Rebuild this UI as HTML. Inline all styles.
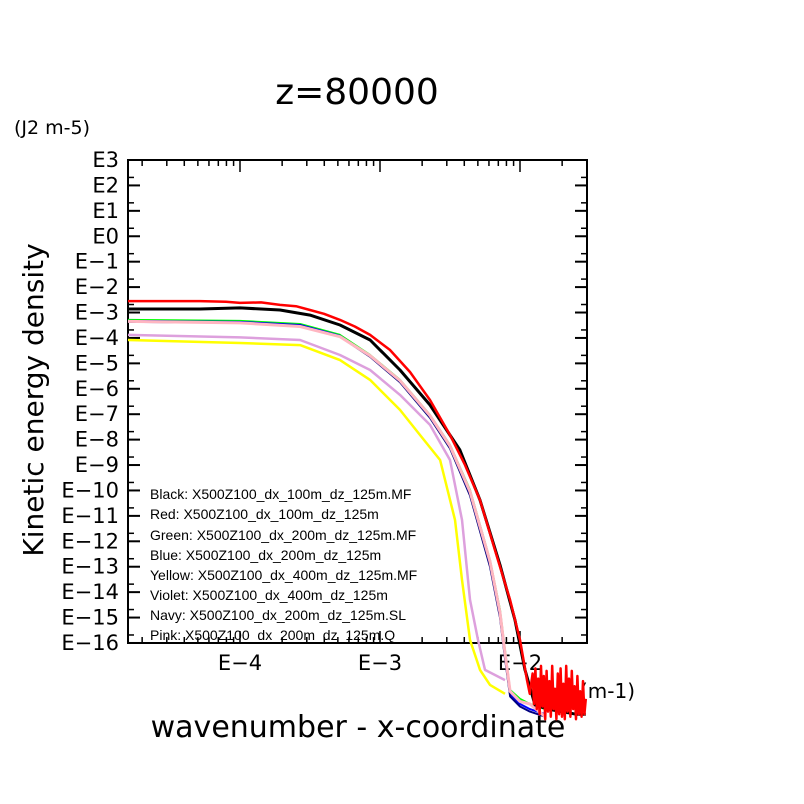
<!DOCTYPE html>
<html><head><meta charset="utf-8"><style>
html,body{margin:0;padding:0;background:#fff}
svg{display:block}
text{font-family:"DejaVu Sans","Liberation Sans",sans-serif}
.leg{font-family:"Liberation Sans",sans-serif;font-size:14px}
</style></head><body>
<svg id="chart" width="804" height="804" viewBox="0 0 804 804" xmlns="http://www.w3.org/2000/svg">
<rect width="804" height="804" fill="#fff"/>
<text x="357" y="104" font-size="36" text-anchor="middle">z=80000</text>
<text x="14" y="134" font-size="19">(J2 m-5)</text>
<text transform="translate(43,400) rotate(-90)" font-size="28" text-anchor="middle">Kinetic energy density</text>
<text x="358" y="737" font-size="30" text-anchor="middle">wavenumber - x-coordinate</text>
<text x="580" y="698" font-size="20">(m-1)</text>
<g id="axes"></g>
<g id="legend">
<text class="leg" x="150" y="499">Black: X500Z100_dx_100m_dz_125m.MF</text>
<text class="leg" x="150" y="519">Red: X500Z100_dx_100m_dz_125m</text>
<text class="leg" x="150" y="540">Green: X500Z100_dx_200m_dz_125m.MF</text>
<text class="leg" x="150" y="560">Blue: X500Z100_dx_200m_dz_125m</text>
<text class="leg" x="150" y="580">Yellow: X500Z100_dx_400m_dz_125m.MF</text>
<text class="leg" x="150" y="600">Violet: X500Z100_dx_400m_dz_125m</text>
<text class="leg" x="150" y="620">Navy: X500Z100_dx_200m_dz_125m.SL</text>
<text class="leg" x="150" y="640">Pink: X500Z100_dx_200m_dz_125m.Q</text>
</g>
<g id="series"></g>
</svg>
<script>
// axis data (log10 units)
const yTickExps = [3,2,1,0,-1,-2,-3,-4,-5,-6,-7,-8,-9,-10,-11,-12,-13,-14,-15,-16];
const xTickExps = [-4,-3,-2];
// series: log10(k), log10(E)
const redK = [-4.8,-4.5,-4.286,-4.1,-4.0,-3.85,-3.714,-3.6,-3.5,-3.4,-3.286,-3.18,-3.071,-2.929,-2.786,-2.643,-2.5,-2.393,-2.286,-2.179,-2.071,-2.0,-1.95,-1.93,-1.91,-1.90,-1.89,-1.88,-1.87,-1.86,-1.85,-1.84,-1.83,-1.82,-1.81,-1.80,-1.79,-1.78,-1.77,-1.76,-1.75,-1.74,-1.73,-1.72,-1.71,-1.70,-1.69,-1.68,-1.67,-1.66,-1.65,-1.64,-1.63,-1.62,-1.61,-1.60,-1.59,-1.58,-1.57,-1.56,-1.55,-1.54,-1.53];
const redE = [-2.55,-2.55,-2.55,-2.58,-2.62,-2.60,-2.70,-2.75,-2.90,-3.05,-3.29,-3.55,-3.88,-4.47,-5.34,-6.44,-7.82,-9.0,-10.38,-12.34,-14.31,-15.88,-17.46,-18.0,-17.2,-18.4,-17.0,-18.6,-17.4,-18.8,-16.9,-18.5,-17.3,-19.0,-17.1,-18.7,-17.5,-18.9,-16.9,-18.6,-17.8,-19.0,-17.2,-18.8,-17.0,-18.9,-17.6,-19.0,-16.9,-18.7,-17.4,-18.9,-17.1,-18.6,-17.7,-19.0,-17.3,-18.8,-17.9,-18.9,-17.5,-18.8,-18.2];
const blackK = [-4.8,-4.286,-4.0,-3.714,-3.5,-3.286,-3.071,-2.857,-2.643,-2.429,-2.286,-2.143,-2.036,-1.964,-1.893,-1.8,-1.7,-1.6,-1.53];
const blackE = [-2.86,-2.86,-2.82,-2.90,-3.1,-3.49,-4.08,-5.26,-6.64,-8.41,-10.38,-12.93,-15.1,-17.06,-18.44,-18.6,-18.7,-18.8,-18.8];
const greenK = [-4.8,-4.0,-3.571,-3.286,-3.071,-2.857,-2.643,-2.5,-2.357,-2.214,-2.143,-2.107,-2.071,-2.0,-1.929,-1.82];
const greenE = [-3.29,-3.33,-3.45,-3.88,-4.67,-5.65,-7.03,-8.21,-9.98,-12.74,-14.7,-16.28,-17.85,-18.2,-18.4,-18.6];
const blueK = greenK;
const blueE = [-3.33,-3.37,-3.49,-3.92,-4.70,-5.70,-7.10,-8.30,-10.1,-12.9,-14.9,-16.5,-18.0,-18.4,-18.6,-18.8];
const navyE = [-3.37,-3.40,-3.52,-3.95,-4.74,-5.74,-7.14,-8.35,-10.2,-13.0,-15.0,-16.6,-18.1,-18.5,-18.7,-18.9];
const pinkE = [-3.35,-3.41,-3.55,-3.95,-4.70,-5.68,-7.06,-8.25,-10.05,-12.8,-14.8,-16.4,-17.9,-18.3,-18.4,-18.9];
const yellowK = [-4.8,-4.0,-3.571,-3.286,-3.071,-2.857,-2.714,-2.571,-2.464,-2.414,-2.357,-2.286,-2.214,-2.107];
const yellowE = [-4.08,-4.20,-4.28,-4.87,-5.65,-6.83,-7.82,-8.8,-11.16,-13.52,-15.88,-17.06,-17.65,-18.0];
const violetK = [-4.8,-4.0,-3.571,-3.286,-3.071,-2.857,-2.643,-2.5,-2.414,-2.357,-2.3,-2.25,-2.107];
const violetE = [-3.88,-3.98,-4.08,-4.67,-5.26,-6.24,-7.42,-8.8,-11.16,-14.3,-15.88,-17.06,-17.46];

const X0=240, PXD=140, Y0=160, PYD=25.42;
const xs = lk => X0 + (lk+4)*PXD;
const ys = le => Y0 + (3-le)*PYD;
const NS="http://www.w3.org/2000/svg";
const L=128,R=587,T=160,B=643;
const axes=document.getElementById('axes');
function mk(tag,attrs,parent){const e=document.createElementNS(NS,tag);for(const k in attrs)e.setAttribute(k,attrs[k]);parent.appendChild(e);return e;}
const frame=mk('rect',{x:L,y:T,width:R-L,height:B-T,fill:'none',stroke:'#000','stroke-width':2},axes);


yTickExps.forEach(e=>{
  const y=ys(e);
  const t1=mk('line',{x1:L,x2:L+12,y1:y,y2:y,stroke:'#000','stroke-width':2},axes);
  
  
  mk('line',{x1:R,x2:R-12,y1:y,y2:y,stroke:'#000','stroke-width':2},axes);
  if(e<3){mk('line',{x1:L,x2:L+6,y1:y-8,y2:y-8,stroke:'#000','stroke-width':1.5},axes);
  mk('line',{x1:R,x2:R-6,y1:y-8,y2:y-8,stroke:'#000','stroke-width':1.5},axes);}
  const lb=mk('text',{x:119,y:y+7,'font-size':21,'text-anchor':'end'},axes);
  lb.textContent=(e<0?'E\u2212'+(-e):'E'+e);
  
  
});
for(let d=-5;d<=-2;d++){for(let m=1;m<10;m++){
  const x=xs(d+Math.log10(m)); if(x<L||x>R)continue;
  const len=m===1?12:6;
  mk('line',{x1:x,x2:x,y1:B,y2:B-len,stroke:'#000','stroke-width':1.5},axes);
  mk('line',{x1:x,x2:x,y1:T,y2:T+len,stroke:'#000','stroke-width':1.5},axes);
}}
xTickExps.forEach(e=>{
  const lb=mk('text',{x:xs(e),y:670,'font-size':21,'text-anchor':'middle'},axes);
  lb.textContent='E\u2212'+(-e);
  
  
});
const sg=document.getElementById('series');
function line(K,E,color,w,name){
  const p=mk('polyline',{points:K.map((k,i)=>xs(k).toFixed(1)+','+ys(E[i]).toFixed(1)).join(' '),fill:'none',stroke:color,'stroke-width':w,'stroke-linejoin':'round'},sg);
  
  
}
line(yellowK,yellowE,'#ffff00',2.5,'series-yellow');
line(violetK,violetE,'#dda0dd',2.5,'series-violet');
line(greenK,greenE,'#00ff00',2,'series-green');
line(blueK,blueE,'#0000ff',2,'series-blue');
line(blueK,navyE,'#000080',2,'series-navy');
line(blueK,pinkE,'#ffb6c1',3,'series-pink');
line(blackK,blackE,'#000000',3,'series-black');
line(redK,redE,'#ff0000',2.5,'series-red');
</script>
</body></html>
